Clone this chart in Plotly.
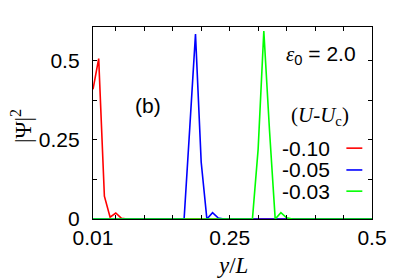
import plotly.graph_objects as go

# y/L grid
y_over_L = [0.01, 0.02, 0.03, 0.04, 0.05, 0.06, 0.07, 0.08, 0.09, 0.10,
            0.11, 0.12, 0.13, 0.14, 0.15, 0.16, 0.17, 0.18, 0.19, 0.20,
            0.21, 0.22, 0.23, 0.24, 0.25, 0.26, 0.27, 0.28, 0.29, 0.30,
            0.31, 0.32, 0.33, 0.34, 0.35, 0.36, 0.37, 0.38, 0.39, 0.40,
            0.41, 0.42, 0.43, 0.44, 0.45, 0.46, 0.47, 0.48, 0.49, 0.50]

psi_m010 = [0.41, 0.507, 0.072, 0.006, 0.019, 0.002, 0, 0, 0, 0,
            0, 0, 0, 0, 0, 0, 0, 0, 0, 0,
            0, 0, 0, 0, 0, 0, 0, 0, 0, 0,
            0, 0, 0, 0, 0, 0, 0, 0, 0, 0,
            0, 0, 0, 0, 0, 0, 0, 0, 0, 0]

psi_m005 = [0, 0, 0, 0, 0, 0, 0, 0, 0, 0,
            0, 0, 0, 0, 0, 0, 0, 0.29, 0.585, 0.18,
            0.0, 0.02, 0.003, 0, 0, 0, 0, 0, 0, 0,
            0, 0, 0, 0, 0, 0, 0, 0, 0, 0,
            0, 0, 0, 0, 0, 0, 0, 0, 0, 0]

psi_m003 = [0, 0, 0, 0, 0, 0, 0, 0, 0, 0,
            0, 0, 0, 0, 0, 0, 0, 0, 0, 0,
            0, 0, 0, 0, 0, 0, 0, 0, 0, 0.22,
            0.594, 0.28, 0.0, 0.02, 0.004, 0, 0, 0, 0, 0,
            0, 0, 0, 0, 0, 0, 0, 0, 0, 0]

series_labels = ["-0.10", "-0.05", "-0.03"]
series_colors = ["#ff0000", "#0000ff", "#00ff00"]
series_values = [psi_m010, psi_m005, psi_m003]

x_tick_vals = [0.01, 0.25, 0.5]
x_tick_text = ["0.01", "0.25", "0.5"]
x_minor_vals = [0.05, 0.10, 0.15, 0.20, 0.30, 0.35, 0.40, 0.45]
y_tick_vals = [0, 0.25, 0.5]
y_tick_text = ["0", "0.25", "0.5"]
y_minor_vals = [0.125, 0.375]

SANS = "Liberation Sans, Arial, sans-serif"
SERIF = "Liberation Serif, DejaVu Serif, serif"

fig = go.Figure()
for lab, col, vals in zip(series_labels, series_colors, series_values):
    fig.add_trace(go.Scatter(x=y_over_L, y=vals, mode="lines", name=lab,
                             line=dict(color=col, width=1.6), showlegend=False))

axis_common = dict(showgrid=False, zeroline=False, showline=True, linecolor="black",
                   linewidth=1.4, mirror="allticks", ticks="inside", ticklen=4,
                   tickcolor="black", tickwidth=1, automargin=False,
                   tickfont=dict(family=SANS, size=21, color="black"))

fig.update_xaxes(range=[0.01, 0.5], tickmode="array", tickvals=x_tick_vals,
                 ticktext=x_tick_text,
                 minor=dict(tickvals=x_minor_vals, ticks="inside", ticklen=4,
                            tickcolor="black", tickwidth=1),
                 ticklabelstandoff=0, **axis_common)
fig.update_yaxes(range=[0, 0.607], tickmode="array", tickvals=y_tick_vals,
                 ticktext=y_tick_text,
                 minor=dict(tickvals=y_minor_vals, ticks="inside", ticklen=4,
                            tickcolor="black", tickwidth=1),
                 ticklabelstandoff=8, **axis_common)

annotations = [
    dict(x=0.107, y=0.36, xref="x", yref="y", text="(b)", showarrow=False,
         xanchor="center", yanchor="middle",
         font=dict(family=SANS, size=21, color="black")),
    dict(x=0.345, y=0.518, xref="x", yref="y", xanchor="left", yanchor="middle",
         text="<span style='font-family:" + SERIF + "'><i>ε</i></span><sub>0</sub> = 2.0",
         showarrow=False, font=dict(family=SANS, size=21, color="black")),
    dict(x=0.355, y=0.325, xref="x", yref="y", xanchor="left", yanchor="middle",
         text="<span style='font-family:" + SERIF + "'>(<i>U</i>-<i>U</i></span><sub>c</sub><span style='font-family:" + SERIF + "'>)</span>",
         showarrow=False, font=dict(family=SERIF, size=21, color="black")),
    dict(x=-0.258, y=0.484, xref="paper", yref="paper", textangle=-90,
         xanchor="center", yanchor="middle",
         text="|Ψ|<sup>2</sup>", showarrow=False,
         font=dict(family=SERIF, size=23, color="black")),
    dict(x=0.501, y=-0.24, xref="paper", yref="paper",
         xanchor="center", yanchor="middle",
         text="<i>y</i>/<i>L</i>", showarrow=False,
         font=dict(family=SERIF, size=23, color="black")),
]
legend_y = [0.224, 0.155, 0.088]
shapes = []
for lab, col, ly in zip(series_labels, series_colors, legend_y):
    annotations.append(dict(x=0.43, y=ly, xref="x", yref="y", xanchor="right",
                            yanchor="middle", text=lab, showarrow=False,
                            font=dict(family=SANS, size=21, color="black")))
    shapes.append(dict(type="line", xref="x", yref="y", x0=0.455, x1=0.483,
                       y0=ly, y1=ly, line=dict(color=col, width=1.6)))

# page body has an 8px default margin, so the figure is sized to fit the window
fig.update_layout(width=391, height=271, autosize=False,
                  margin=dict(l=85, r=27, t=19, b=60, pad=0),
                  paper_bgcolor="white", plot_bgcolor="white",
                  annotations=annotations, shapes=shapes, showlegend=False)

fig.write_html("out.html")
